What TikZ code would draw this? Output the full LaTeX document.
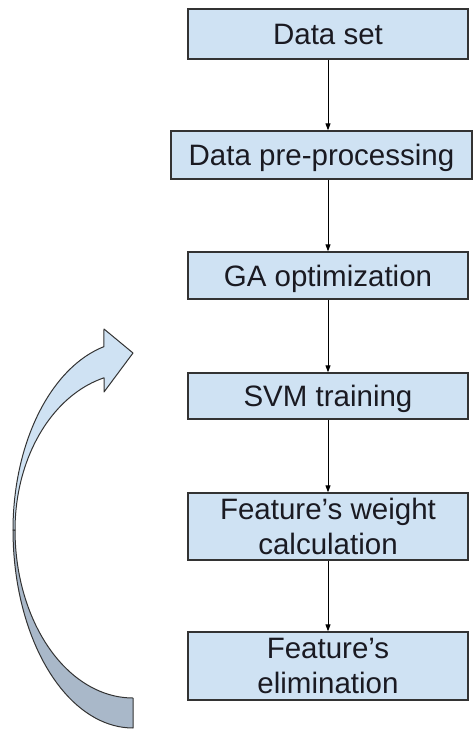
\documentclass[tikz,border=0pt]{standalone}
\usepackage{fontspec}
\setmainfont{Liberation Sans}
\usetikzlibrary{arrows.meta}
\definecolor{boxfill}{HTML}{CFE2F3}
\definecolor{backfill}{HTML}{A9B8C9}
\definecolor{edgecol}{HTML}{333333}
\definecolor{ink}{HTML}{1A1A22}
\begin{document}
\begin{tikzpicture}[x=1pt,y=-1pt,
  stepbox/.style={draw=edgecol, line width=1.3pt, fill=boxfill, minimum width=280pt,
    inner sep=0pt, font=\fontsize{29.5}{35}\selectfont, text=ink, align=center},
  oneline/.style={text height=21pt, text depth=0pt},
  flow/.style={draw=black, line width=1pt, -{Triangle[length=7pt,width=5pt]}},
  ribbon/.style={draw=edgecol, line width=1pt, line join=round}
  ]
\useasboundingbox (0,0) rectangle (473,729);
\fill[white] (0,0) rectangle (473,729);

\node[stepbox, oneline, minimum height=50pt] (b1) at (328,34) {Data set};
\node[stepbox, oneline, minimum width=301pt, minimum height=48pt] (b2) at (321.5,155) {Data pre-processing};
\node[stepbox, oneline, minimum height=47pt] (b3) at (328,275.5) {GA optimization};
\node[stepbox, oneline, minimum height=46pt] (b4) at (328,396) {SVM training};
\node[stepbox, minimum height=67pt] (b5) at (328,526.5) {Feature’s weight\\calculation};
\node[stepbox, minimum height=68pt] (b6) at (328,666) {Feature’s\\elimination};

\draw[flow] (b1.south) -- (b1.south |- b2.north);
\draw[flow] (b3.north |- b2.south) -- (b3.north);
\draw[flow] (b3.south) -- (b4.north);
\draw[flow] (b4.south) -- (b5.north);
\draw[flow] (b5.south) -- (b6.north);

% curved return arrow: lower (back) face
\path[ribbon, fill=backfill]
  plot[domain=0:90, samples=40] ({133-120*cos(\x)},{530+198*sin(\x)})
  -- (133,698)
  -- plot[domain=0:90, samples=40] ({133-118*sin(\x)},{530+168*cos(\x)})
  -- cycle;
% upper (front) face with head
\path[ribbon, fill=boxfill]
  plot[domain=0:76, samples=40] ({133-120*cos(\x)},{530-189*sin(\x)})
  -- (104,329) -- (133,353) -- (104,392) -- (104,378)
  -- plot[domain=0:75.8, samples=40] ({133-118*cos(75.8-\x)},{530-157*sin(75.8-\x)})
  -- cycle;
\end{tikzpicture}
\end{document}
